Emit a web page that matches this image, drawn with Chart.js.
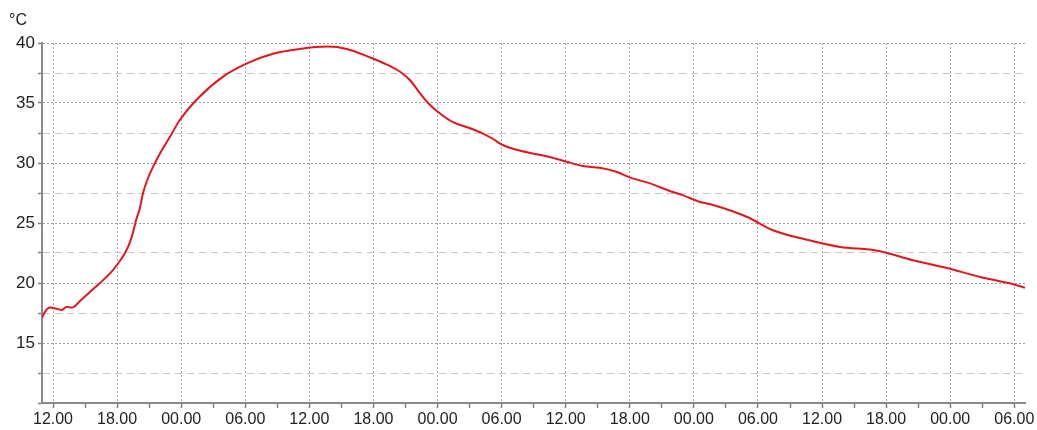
<!DOCTYPE html>
<html>
<head>
<meta charset="utf-8">
<script src="https://cdn.jsdelivr.net/npm/chart.js@4/dist/chart.umd.min.js"></script>
<style>
html,body{margin:0;padding:0;background:#fff;}
#wrap{width:1037px;height:430px;position:relative;}
</style>
</head>
<body>
<div id="wrap"><canvas id="c"></canvas></div>
<script>
// Hours relative to the first "12.00" tick
const hours = [-1.03,-0.75,-0.28,0.37,0.84,1.22,1.78,2.53,3.46,4.40,5.34,5.99,6.74,7.21,7.49,7.77,8.15,8.43,8.90,9.55,10.21,10.96,11.89,13.58,15.92,18.16,20.6,23.1,25.7,27.5,29.68,31.27,32.49,33.43,34.36,35.11,36.05,37.45,39.04,40.26,41.2,42.1,43.4,44.9,46.5,48.1,49.6,51.2,52.8,54.0,55.9,57.5,59.0,60.6,61.8,65.0,67.4,70.6,73.7,76.8,78.1,80.5,83.7,86.8,89.9,91.0];
const temps = [17.1,17.6,17.95,17.85,17.75,18.0,17.95,18.5,19.25,20.0,20.8,21.5,22.5,23.4,24.2,25.2,26.3,27.5,28.75,30.0,31.1,32.2,33.6,35.4,37.2,38.3,39.1,39.5,39.7,39.5,38.8,38.2,37.6,36.9,35.8,35.0,34.25,33.4,32.9,32.45,32.0,31.5,31.1,30.8,30.5,30.1,29.75,29.6,29.25,28.8,28.3,27.75,27.3,26.75,26.5,25.5,24.4,23.6,23.0,22.75,22.5,21.9,21.25,20.5,19.9,19.6];
const startClock = 12;            // clock hour at x = 0
const xMin = -1.03, xMax = 91.0;
const yMin = 10, yMax = 40;
const unitLabel = '°C';

const points = hours.map((h, i) => ({x: h, y: temps[i]}));

function clockLabel(h) {
  const r = Math.round(h);
  if (r % 6 !== 0) return '';
  const hr = ((startClock + r) % 24 + 24) % 24;
  return String(hr).padStart(2, '0') + '.00';
}

const unitPlugin = {
  id: 'unit',
  afterDraw(chart) {
    const ctx = chart.ctx;
    ctx.save();
    ctx.fillStyle = '#222';
    ctx.font = '16px "Liberation Sans", Arial, sans-serif';
    ctx.textBaseline = 'alphabetic';
    ctx.textAlign = 'left';
    ctx.fillText(unitLabel, 9, 25);
    ctx.restore();
  }
};

new Chart(document.getElementById('c'), {
  type: 'line',
  data: {
    datasets: [{
      data: points,
      borderColor: '#e3161d',
      borderWidth: 2,
      pointRadius: 0,
      fill: false,
      cubicInterpolationMode: 'monotone'
    }]
  },
  options: {
    responsive: true,
    maintainAspectRatio: false,
    animation: false,
    layout: {padding: {top: 43, right: 12, left: 0, bottom: 0}},
    plugins: {legend: {display: false}, tooltip: {enabled: false}, title: {display: false}},
    scales: {
      x: {
        type: 'linear',
        min: xMin,
        max: xMax,
        afterBuildTicks(scale) {
          const t = [];
          for (let v = Math.ceil(xMin / 3) * 3; v <= xMax; v += 3) t.push({value: v});
          scale.ticks = t;
        },
        afterFit(scale) { scale.height = 27; },
        ticks: {
          autoSkip: false,
          maxRotation: 0,
          padding: 2,
          color: '#222',
          font: {family: '"Liberation Sans", Arial, sans-serif', size: 16},
          callback: (v) => clockLabel(v)
        },
        grid: {
          color: (c) => (c.tick && Math.round(c.tick.value) % 6 === 0) ? '#a8a8a8' : 'rgba(0,0,0,0)',
          lineWidth: 1,
          tickColor: '#808080',
          tickLength: 5,
          tickWidth: 1.5
        },
        border: {
          display: true,
          color: '#8a8a8a',
          width: 2,
          dash: (c) => c.tick ? [2, 2] : []
        }
      },
      y: {
        min: yMin,
        max: yMax,
        afterBuildTicks(scale) {
          const t = [];
          for (let v = yMin; v <= yMax + 1e-9; v += 2.5) t.push({value: v});
          scale.ticks = t;
        },
        afterFit(scale) { scale.width = 42; },
        ticks: {
          autoSkip: false,
          padding: 3,
          color: '#222',
          font: {family: '"Liberation Sans", Arial, sans-serif', size: 17},
          callback: (v) => (v % 5 === 0 && v !== yMin) ? String(v) : ''
        },
        grid: {
          color: (c) => {
            if (!c.tick) return '#aaa';
            const v = c.tick.value;
            if (v === yMin) return 'rgba(0,0,0,0)';
            return v % 5 === 0 ? '#a0a0a0' : '#c4c4c4';
          },
          lineWidth: 1,
          tickColor: '#808080',
          tickLength: 4,
          tickWidth: 1.5
        },
        border: {
          display: true,
          color: '#8a8a8a',
          width: 2,
          dash: (c) => {
            if (!c.tick) return [];
            return c.tick.value % 5 === 0 ? [2, 2] : [7, 5];
          }
        }
      }
    }
  },
  plugins: [unitPlugin]
});
</script>
</body>
</html>
